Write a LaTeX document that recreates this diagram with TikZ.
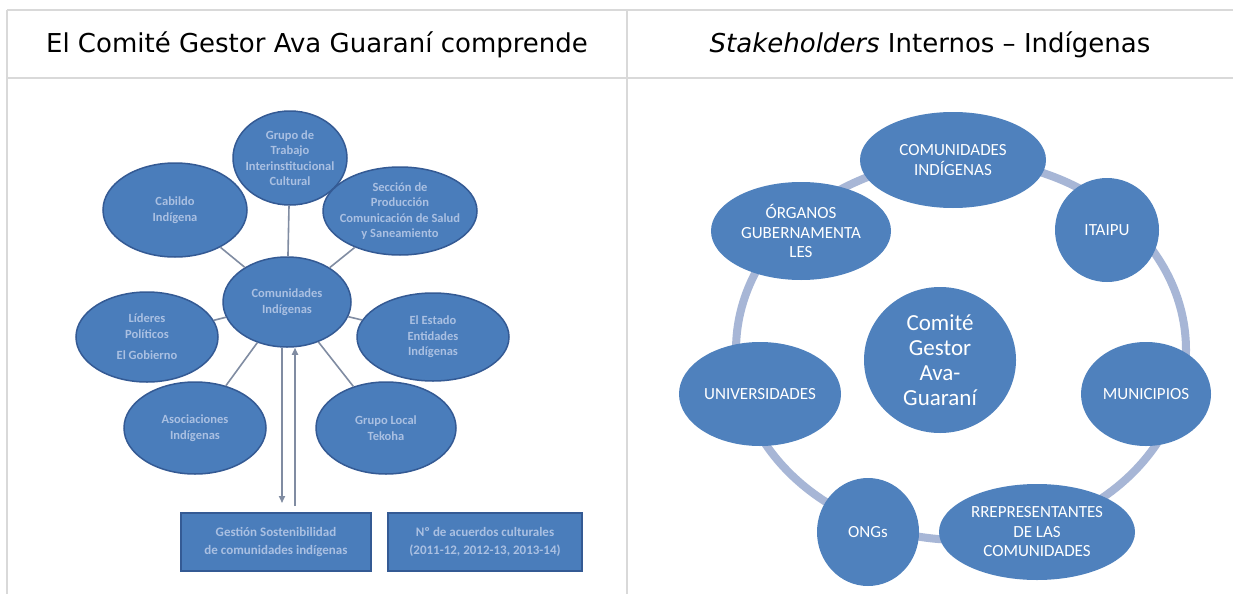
\documentclass[tikz,border=0pt]{standalone}
\usepackage{fontspec}
\setmainfont{DejaVu Sans}
\newfontfamily\smartfont{Carlito}
\usetikzlibrary{shapes.geometric,arrows.meta}
\definecolor{gridgray}{RGB}{217,217,217}
\definecolor{artblue}{RGB}{79,129,189}
\definecolor{ringblue}{RGB}{167,182,214}
\definecolor{picblue}{RGB}{74,125,187}
\definecolor{picedge}{RGB}{52,90,148}
\definecolor{picline}{RGB}{128,140,162}
\definecolor{pictext}{RGB}{170,192,226}
\tikzset{rule/.style={gridgray, line width=2pt},
  header/.style={font=\fontsize{26}{30}\selectfont},
  actor/.style={ellipse, fill=artblue, text=white, align=center, inner sep=-3pt,
    font=\smartfont\fontsize{17}{19.5}\selectfont},
  blob/.style={ellipse, fill=picblue, draw=picedge, line width=1.5pt, text=pictext,
    align=center, inner sep=-15pt, font=\smartfont\bfseries\fontsize{12.5}{15.5}\selectfont},
  tile/.style={rectangle, fill=picblue, draw=picedge, line width=1.2pt, text=pictext,
    align=center, inner sep=0pt, font=\smartfont\bfseries\fontsize{13}{18}\selectfont},
  spoke/.style={picline, line width=1.6pt}}

\begin{document}
\begin{tikzpicture}[x=1pt,y=-1pt]
  \useasboundingbox[fill=white] (0,0) rectangle (1233,594);
  \draw[rule] (7,10) -- (1233,10);
  \draw[rule] (7,78) -- (1233,78);
  \draw[rule] (7,10) -- (7,594);
  \draw[rule] (627,10) -- (627,594);
  \node[header] (titleleft) at (317,45) {El Comité Gestor Ava Guaraní comprende};
  \node[header] (titleright) at (930,45) {\textit{Stakeholders} Internos – Indígenas};
  \begin{scope}
   \node[blob, minimum width=114pt, minimum height=94pt] (grupo) at (290,158)
     {Grupo de\\Trabajo\\Interinstitucional\\Cultural};
   \node[blob, minimum width=144pt, minimum height=94pt] (cabildo) at (175,210)
     {Cabildo\\Indígena};
   \node[blob, minimum width=154pt, minimum height=88pt] (seccion) at (400,211)
     {Sección de\\Producción\\Comunicación de Salud\\y Saneamiento};
   \node[blob, minimum width=128pt, minimum height=90pt] (centro) at (287,302)
     {Comunidades\\Indígenas};
   \node[blob, minimum width=142pt, minimum height=90pt] (lideres) at (147,337)
     {Líderes\\Políticos\\[6pt]El Gobierno};
   \node[blob, minimum width=152pt, minimum height=88pt] (estado) at (433,337)
     {El Estado\\Entidades\\Indígenas};
   \node[blob, minimum width=142pt, minimum height=92pt] (asociaciones) at (195,428)
     {Asociaciones\\Indígenas};
   \node[blob, minimum width=140pt, minimum height=92pt] (local) at (386,428)
     {Grupo Local\\Tekoha};
   \node[tile, minimum width=190pt, minimum height=58pt] (gestion) at (276,542)
     {Gestión Sostenibilidad\\de comunidades indígenas};
   \node[tile, minimum width=194pt, minimum height=58pt] (acuerdos) at (485,542)
     {Nº de acuerdos culturales\\(2011-12, 2012-13, 2013-14)};
   \foreach \n in {grupo,cabildo,seccion,lideres,estado,asociaciones,local}
     \draw[spoke] (centro) -- (\n);
   \coordinate (downend) at (282,503);
   \coordinate (upstart) at (295,506);
   \draw[spoke, -{Triangle[length=7pt,width=6pt]}] (centro.south -| downend) -- (downend);
   \draw[spoke, -{Triangle[length=7pt,width=6pt]}] (upstart) -- (centro.south -| upstart);
  \end{scope}
  \begin{scope}
   \coordinate (ringcenter) at (961,350);
   \draw[ringblue, line width=8pt] (ringcenter) ellipse [x radius=225, y radius=190];
   \node[actor, minimum width=186pt, minimum height=96pt] (comunidades) at (953,160)
     {COMUNIDADES\\INDÍGENAS};
   \node[actor, minimum width=104pt, minimum height=104pt] (itaipu) at (1107,230) {ITAIPU};
   \node[actor, minimum width=130pt, minimum height=104pt] (municipios) at (1146,394) {MUNICIPIOS};
   \node[actor, minimum width=196pt, minimum height=96pt] (representantes) at (1037,532)
     {RREPRESENTANTES\\DE LAS\\COMUNIDADES};
   \node[actor, minimum width=102pt, minimum height=108pt] (ongs) at (868,532) {ONGs};
   \node[actor, minimum width=162pt, minimum height=104pt] (universidades) at (760,394) {UNIVERSIDADES};
   \node[actor, minimum width=180pt, minimum height=98pt] (organos) at (801,231)
     {ÓRGANOS\\GUBERNAMENTA\\LES};
   \node[actor, minimum width=152pt, minimum height=146pt, font=\smartfont\fontsize{23}{25}\selectfont]
     (comite) at (940,360) {Comité\\Gestor\\Ava-\\Guaraní};
  \end{scope}
\end{tikzpicture}
\end{document}
